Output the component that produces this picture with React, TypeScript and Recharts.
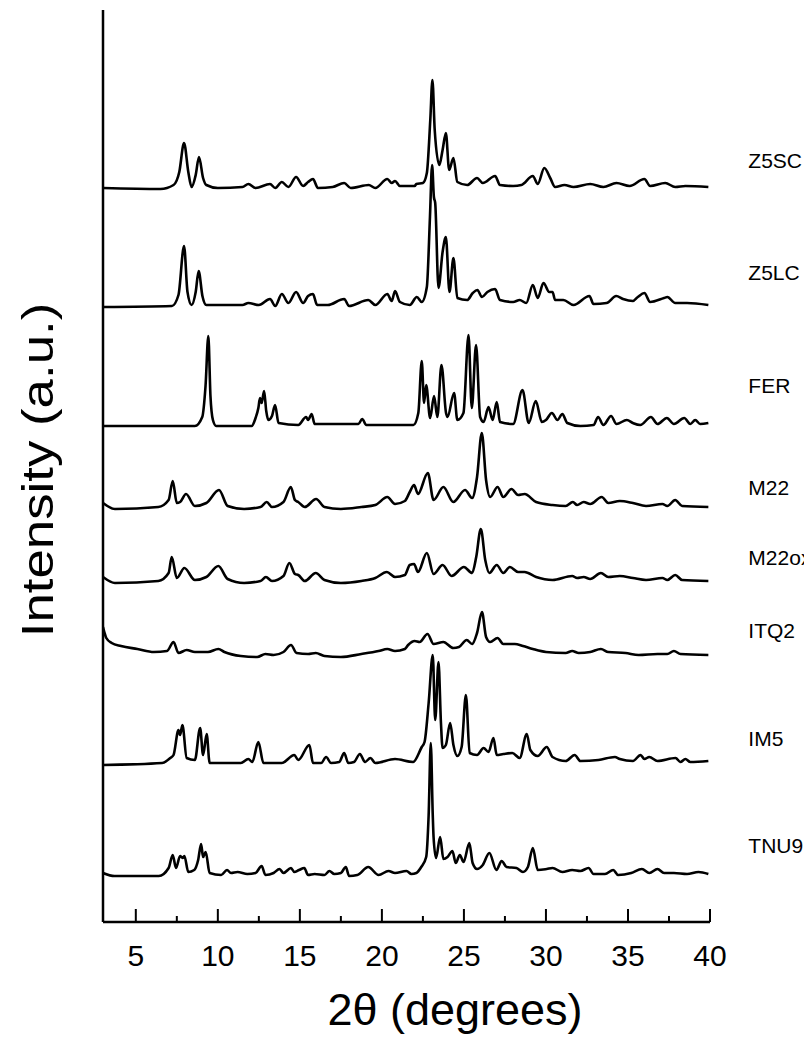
import { LineChart, Line, XAxis, YAxis } from "recharts";

type Pt = [number, number];

// 2theta (deg), intensity above each pattern's own baseline (a.u.)
const z5sc: Pt[] = [
  [3.0, 2], [6.5, 1], [7.3, 5], [7.65, 18], [7.94, 47], [8.2, 18], [8.4, 3], [8.65, 15], [8.85, 33], [9.1, 12], [9.3, 5],
  [10.0, 2], [11.5, 3], [11.86, 6], [12.3, 2], [13.18, 6], [13.5, 2], [13.9, 8], [14.3, 3], [14.77, 13], [15.2, 4],
  [15.5, 8], [15.8, 11], [16.1, 2], [17.0, 3], [17.7, 7], [18.1, 2], [19.2, 5], [19.6, 2], [20.33, 11], [20.6, 7],
  [20.8, 9], [21.1, 4], [22.0, 4], [22.1, 6], [22.5, 7], [22.74, 17], [22.95, 70], [23.08, 110], [23.22, 60],
  [23.5, 25], [23.7, 40], [23.9, 57], [24.1, 20], [24.36, 32], [24.6, 8], [25.2, 5], [25.8, 12], [26.15, 7],
  [26.9, 14], [27.2, 5], [28.0, 4], [28.5, 5], [29.2, 14], [29.5, 6], [29.9, 22], [30.26, 12], [30.56, 3],
  [31.13, 5], [31.68, 3], [32.7, 6], [33.5, 3], [34.3, 7], [35.1, 4], [36.0, 11], [36.35, 4], [37.27, 7],
  [37.88, 3], [38.5, 4], [39.9, 3],
];

const z5lc: Pt[] = [
  [3.0, 0], [7.2, 1], [7.6, 12], [7.94, 61], [8.15, 15], [8.4, 2], [8.65, 15], [8.83, 36], [9.06, 11], [9.3, 2],
  [11.5, 2], [11.86, 4], [12.5, 2], [13.18, 8], [13.5, 1], [13.9, 13], [14.3, 4], [14.77, 15], [15.2, 4], [15.5, 11],
  [15.8, 13], [16.05, 2], [16.7, 2], [17.7, 8], [18.0, 1], [19.17, 7], [19.6, 2], [20.33, 13], [20.6, 6], [20.8, 16],
  [21.1, 5], [21.7, 2], [22.13, 10], [22.43, 5], [22.74, 20], [22.93, 90], [23.06, 142], [23.17, 110], [23.25, 104],
  [23.45, 19], [23.7, 55], [23.9, 70], [24.12, 15], [24.36, 49], [24.6, 9], [25.2, 7], [25.54, 14], [25.82, 17],
  [26.1, 10], [26.43, 15], [26.9, 18], [27.2, 7], [28.0, 5], [28.4, 7], [28.8, 4], [29.2, 22], [29.5, 9],
  [29.85, 24], [30.2, 15], [30.4, 15], [30.56, 7], [31.06, 7], [31.68, 2], [32.65, 11], [32.9, 3], [33.7, 4],
  [34.28, 11], [34.7, 8], [35.3, 6], [35.6, 10], [36.0, 14], [36.35, 5], [37.2, 9], [37.4, 10], [37.88, 4],
  [38.6, 4], [39.9, 2],
];

const fer: Pt[] = [
  [3.0, 0], [8.6, 0], [9.05, 9], [9.25, 40], [9.42, 90], [9.55, 30], [9.7, 6], [9.9, 0], [12.06, 0], [12.3, 8],
  [12.47, 18], [12.57, 28], [12.67, 23], [12.82, 35], [12.95, 15], [13.08, 6], [13.3, 10], [13.49, 21], [13.7, 3],
  [14.9, 1], [15.38, 9], [15.5, 6], [15.72, 12], [15.9, 2], [18.57, 2], [18.8, 7], [19.05, 1], [21.92, 1],
  [22.22, 13], [22.43, 65], [22.57, 23], [22.7, 41], [22.94, 8], [23.18, 30], [23.38, 9], [23.63, 61], [23.91, 13],
  [24.0, 9], [24.4, 33], [24.6, 6], [24.97, 13], [25.28, 91], [25.48, 18], [25.74, 81], [25.99, 9], [26.2, 4],
  [26.5, 19], [26.75, 6], [27.0, 24], [27.2, 4], [28.0, 2], [28.57, 36], [28.95, 3], [29.38, 25], [29.75, 4],
  [30.0, 6], [30.36, 13], [30.7, 6], [31.0, 12], [31.3, 3], [32.1, 0], [32.9, 1], [33.18, 9], [33.5, 1],
  [33.97, 10], [34.3, 2], [34.93, 6], [35.3, 3], [35.75, 1], [36.4, 9], [36.8, 2], [37.37, 8], [37.8, 2],
  [38.43, 8], [38.8, 2], [39.1, 6], [39.4, 2], [39.9, 3],
];

const m22: Pt[] = [
  [3.0, 5], [3.73, -1], [6.37, 1], [7.0, 8], [7.25, 27], [7.5, 5], [7.7, 6], [8.06, 14], [8.6, 2], [9.3, 5],
  [10.07, 18], [10.6, 2], [11.6, -1], [12.6, 1], [12.98, 6], [13.3, 1], [14.0, 6], [14.45, 21], [14.7, 8],
  [14.9, 6], [15.3, 1], [15.99, 9], [16.5, 1], [17.5, -1], [18.75, 1], [19.6, 3], [20.33, 11], [20.8, 4],
  [21.4, 7], [21.7, 16], [21.96, 23], [22.2, 14], [22.8, 35], [23.15, 8], [23.75, 21], [24.35, 6], [25.07, 18],
  [25.5, 10], [25.8, 31], [26.09, 75], [26.35, 28], [26.6, 11], [27.05, 21], [27.4, 11], [27.9, 19], [28.3, 13],
  [28.7, 14], [29.4, 6], [30.4, 3], [31.2, 2], [31.64, 6], [31.9, 3], [32.3, 6], [32.7, 4], [33.4, 11], [33.8, 5],
  [34.5, 7], [35.3, 5], [36.1, 2], [37.1, 4], [37.4, 2], [37.88, 8], [38.3, 2], [39.9, 1],
];

const m22ox: Pt[] = [
  [3.0, 5], [3.73, -1], [6.37, 1], [7.0, 9], [7.19, 25], [7.5, 4], [7.96, 14], [8.6, 2], [9.3, 5], [10.03, 16],
  [10.6, 3], [11.6, -1], [12.6, 1], [12.93, 5], [13.3, 1], [14.0, 6], [14.36, 19], [14.7, 8], [14.9, 7], [15.3, 1],
  [15.97, 9], [16.5, 2], [17.5, -1], [18.75, 1], [19.6, 4], [20.3, 10], [20.8, 5], [21.4, 7], [21.7, 17],
  [21.96, 18], [22.2, 10], [22.74, 29], [23.15, 8], [23.7, 17], [24.25, 6], [25.0, 15], [25.5, 9], [25.75, 25],
  [26.03, 53], [26.3, 22], [26.55, 9], [27.0, 17], [27.4, 9], [27.8, 15], [28.3, 10], [28.7, 10], [29.4, 5],
  [30.4, 2], [31.6, 6], [31.9, 4], [32.3, 5], [32.7, 3], [33.35, 9], [33.8, 5], [34.5, 6], [35.3, 4], [36.1, 2],
  [37.1, 4], [37.4, 2], [37.88, 7], [38.3, 2], [39.9, 1],
];

const itq2: Pt[] = [
  [3.0, 28], [3.08, 23], [3.2, 17], [3.53, 12], [4.1, 9], [5.1, 6], [6.1, 3], [6.9, 4], [7.3, 13], [7.6, 2],
  [8.1, 5], [8.6, 3], [9.4, 3], [10.03, 6], [10.4, 3], [11.4, -1], [12.4, -2], [12.9, 1], [13.4, 0], [14.0, 3],
  [14.46, 10], [14.8, 2], [15.5, 1], [15.97, 2], [16.5, -1], [17.5, -2], [18.75, 1], [19.8, 4], [20.33, 6],
  [20.8, 4], [21.4, 6], [21.6, 10], [22.0, 14], [22.3, 13], [22.78, 21], [23.15, 11], [23.75, 13], [24.35, 7],
  [24.7, 8], [25.17, 15], [25.5, 11], [25.8, 22], [26.1, 43], [26.35, 18], [26.6, 13], [27.05, 17], [27.4, 11],
  [28.1, 11], [28.6, 9], [29.2, 6], [30.0, 3], [31.2, 2], [31.6, 4], [32.0, 2], [32.7, 3], [33.35, 6], [33.8, 3],
  [34.85, 2], [35.65, 0], [36.8, 1], [37.4, 1], [37.8, 4], [38.2, 1], [39.9, 0],
];

const im5: Pt[] = [
  [3.0, -2], [6.6, 0], [7.1, 5], [7.3, 8], [7.6, 33], [7.7, 28], [7.84, 38], [8.1, 5], [8.6, 3], [8.92, 35],
  [9.1, 8], [9.32, 29], [9.5, 0], [10.6, 0], [11.4, 0], [11.86, 4], [12.1, 1], [12.47, 21], [12.78, 0], [13.9, 0],
  [14.66, 8], [14.9, 3], [15.58, 18], [15.8, 0], [16.3, 0], [16.6, 6], [16.9, 0], [17.4, 1], [17.7, 10],
  [17.95, 0], [18.3, 1], [18.66, 9], [18.97, 1], [19.3, 5], [19.6, 0], [20.8, 4], [21.9, 1], [22.43, 16],
  [22.6, 21], [22.85, 60], [23.1, 108], [23.25, 43], [23.45, 101], [23.6, 40], [23.7, 15], [23.9, 18],
  [24.16, 40], [24.36, 18], [24.6, 7], [24.86, 16], [25.12, 68], [25.35, 10], [25.8, 8], [26.2, 15], [26.5, 11],
  [26.8, 25], [27.0, 8], [27.4, 9], [27.95, 10], [28.4, 5], [28.83, 29], [29.05, 13], [29.5, 7], [30.05, 16],
  [30.4, 6], [31.2, 2], [31.75, 8], [32.1, 2], [33.2, 3], [34.2, 6], [34.5, 4], [35.3, 2], [35.77, 8], [36.0, 4],
  [36.3, 6], [36.8, 2], [37.9, 5], [38.2, 1], [38.5, 4], [38.8, 1], [39.9, 2],
];

const tnu9: Pt[] = [
  [3.0, 2], [3.7, -1], [6.4, -1], [7.0, 7], [7.25, 20], [7.45, 7], [7.7, 19], [7.85, 17], [7.96, 19], [8.2, 3],
  [8.56, 5], [8.8, 15], [8.98, 31], [9.1, 18], [9.26, 23], [9.5, 2], [10.2, 0], [10.56, 5], [10.8, 2], [11.2, 3],
  [11.8, 1], [12.3, 2], [12.67, 9], [12.9, 0], [13.4, 2], [13.76, 6], [14.0, 2], [14.46, 7], [14.66, 3],
  [14.95, 5], [15.27, 7], [15.5, 0], [15.9, 1], [16.5, 0], [16.8, 4], [17.1, 1], [17.5, 2], [17.8, 8], [18.0, -1],
  [18.5, 0], [19.17, 8], [19.8, 0], [20.4, 4], [20.8, 2], [21.5, 4], [21.8, 1], [22.1, 2], [22.4, 8], [22.7, 18],
  [22.85, 60], [22.98, 132], [23.1, 60], [23.15, 38], [23.3, 17], [23.55, 38], [23.75, 16], [24.0, 18],
  [24.3, 24], [24.5, 12], [24.75, 20], [24.98, 13], [25.33, 32], [25.53, 12], [25.8, 6], [26.15, 10],
  [26.55, 22], [26.98, 5], [27.3, 14], [27.6, 8], [28.2, 7], [28.6, 3], [28.9, 8], [29.2, 27], [29.5, 5],
  [30.05, 6], [30.4, 7], [31.0, 3], [31.6, 5], [32.1, 4], [32.6, 7], [32.9, 1], [33.6, 1], [34.1, 5], [34.4, 0],
  [35.2, 2], [35.85, 6], [36.3, 2], [36.8, 6], [37.2, 2], [37.8, 2], [38.6, 1], [39.3, 3], [39.9, 1],
];

const seriesNames = ["Z5SC", "Z5LC", "FER", "M22", "M22ox", "ITQ2", "IM5", "TNU9"];
const seriesPoints = [z5sc, z5lc, fer, m22, m22ox, itq2, im5, tnu9];
// vertical stacking offset of each pattern (a.u.)
const stackOffsets = [732, 615, 496, 414, 340, 267, 159, 47];
const xTicks = [5, 7.5, 10, 12.5, 15, 17.5, 20, 22.5, 25, 27.5, 30, 32.5, 35, 37.5, 40];

// how far the name sits above the end of each trace (px)
const labelLift = [27, 33, 38, 20, 24, 25, 23, 29];

const FONT = "'Liberation Sans', Arial, Helvetica, sans-serif";

function XTick(props: any) {
  const { x, y, payload } = props;
  const major = payload.value % 5 === 0;
  return (
    <g>
      <line x1={x} x2={x} y1={y} y2={y - (major ? 13 : 6)} stroke="#000" strokeWidth={2} />
      {major && (
        <text x={x} y={y + 44} textAnchor="middle" fontSize={30} fill="#000" fontFamily={FONT}>
          {payload.value}
        </text>
      )}
    </g>
  );
}

export default function App() {
  return (
    <div style={{ position: "relative", width: 804, height: 1030, fontFamily: FONT, overflow: "hidden" }}>
      <LineChart width={804} height={1030} margin={{ top: 2, right: 102, bottom: 0, left: 94 }}>
        <XAxis
          dataKey="t"
          type="number"
          domain={[3, 40]}
          ticks={xTicks}
          allowDataOverflow
          interval={0}
          height={116}
          tickSize={0}
          tickMargin={0}
          tickLine={false}
          tick={<XTick />}
          axisLine={{ stroke: "#000", strokeWidth: 2.5 }}
        />
        <YAxis
          type="number"
          domain={[0, 912]}
          width={1}
          tick={false}
          tickLine={false}
          axisLine={{ stroke: "#000", strokeWidth: 2.5 }}
        />
        {seriesPoints.map((pts, i) => {
          const data = pts.map(([t, v]) => ({ t, v: v + stackOffsets[i] }));
          const last = data.length - 1;
          return (
            <Line
              key={seriesNames[i]}
              data={data}
              dataKey="v"
              type="monotone"
              stroke="#000"
              strokeWidth={2.6}
              strokeLinejoin="round"
              dot={false}
              activeDot={false}
              isAnimationActive={false}
              label={(p: any) =>
                p.index === last ? (
                  <text
                    key={`lbl-${i}`}
                    x={p.x + 40}
                    y={p.y - labelLift[i]}
                    dominantBaseline="central"
                    fontSize={21}
                    fill="#000"
                    fontFamily={FONT}
                  >
                    {seriesNames[i]}
                  </text>
                ) : (
                  <g key={`lbl-${i}-${p.index}`} />
                )
              }
            />
          );
        })}
      </LineChart>
      <div
        style={{
          position: "absolute",
          left: 30,
          top: 462,
          transform: "translate(-50%, -50%) rotate(-90deg) scaleX(1.2)",
          whiteSpace: "nowrap",
          fontSize: 44,
          color: "#000",
        }}
      >
        Intensity (a.u.)
      </div>
      <div
        style={{
          position: "absolute",
          left: 447,
          top: 1002,
          transform: "translate(-50%, -50%)",
          whiteSpace: "nowrap",
          fontSize: 45,
          color: "#000",
        }}
      >
        2θ (degrees)
      </div>
    </div>
  );
}
